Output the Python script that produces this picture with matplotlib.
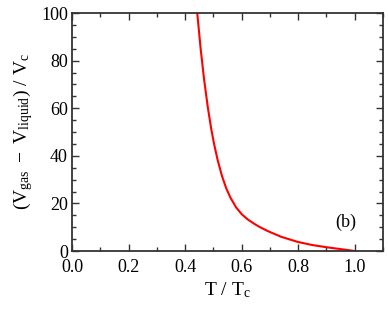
import numpy as np
import matplotlib
matplotlib.use("Agg")
import matplotlib.pyplot as plt
from matplotlib.ticker import MultipleLocator

# data
t_red = [0.443, 0.455, 0.467, 0.480, 0.492, 0.503, 0.515, 0.530, 0.545, 0.560,
         0.580, 0.600, 0.621, 0.645, 0.665, 0.692, 0.739, 0.799, 0.850, 0.905, 0.950, 1.0]
v_diff = [100, 85.0, 72.3, 60.7, 51.6, 44.7, 38.3, 31.7, 26.5, 22.5,
          18.4, 15.5, 13.3, 11.4, 10.0, 8.4, 6.0, 3.8, 2.5, 1.5, 0.8, 0]

plt.rcParams["font.family"] = "Liberation Serif"
plt.rcParams["mathtext.fontset"] = "custom"
plt.rcParams["mathtext.rm"] = "Liberation Serif"
plt.rcParams["mathtext.it"] = "Liberation Serif"

fig = plt.figure(figsize=(3.88, 3.15), dpi=100)
ax = fig.add_axes([72 / 388, 1 - 251 / 315, 311 / 388, 238 / 315])

ax.plot(t_red, v_diff, color="red", lw=1.5)

ax.set_xlim(0, 1.1)
ax.set_ylim(0, 100)
ax.xaxis.set_major_locator(MultipleLocator(0.2))
ax.xaxis.set_minor_locator(MultipleLocator(0.1))
ax.yaxis.set_major_locator(MultipleLocator(20))
ax.yaxis.set_minor_locator(MultipleLocator(5))
ax.set_xticks([0, 0.2, 0.4, 0.6, 0.8, 1.0])
ax.set_xticklabels(["0.0", "0.2", "0.4", "0.6", "0.8", "1.0"])
ax.tick_params(which="both", direction="in", top=True, right=True,
               labelsize=13, color="#333333", width=1)
ax.tick_params(which="major", length=5)
ax.tick_params(which="minor", length=3)
ax.tick_params(axis="y", pad=3)
ax.tick_params(axis="x", pad=6)
for s in ax.spines.values():
    s.set_linewidth(1.3)
    s.set_color("#333333")

ax.set_xlabel(r"$\mathrm{T\ /\ T_c}$", fontsize=14, labelpad=3)
ax.set_ylabel(r"$\mathrm{(V_{gas}\ -\ V_{liquid})\ /\ V_c}$", fontsize=14)
ax.text(0.97, 12, "(b)", fontsize=13, ha="center", va="center")

fig.savefig("out.png", dpi=100)
